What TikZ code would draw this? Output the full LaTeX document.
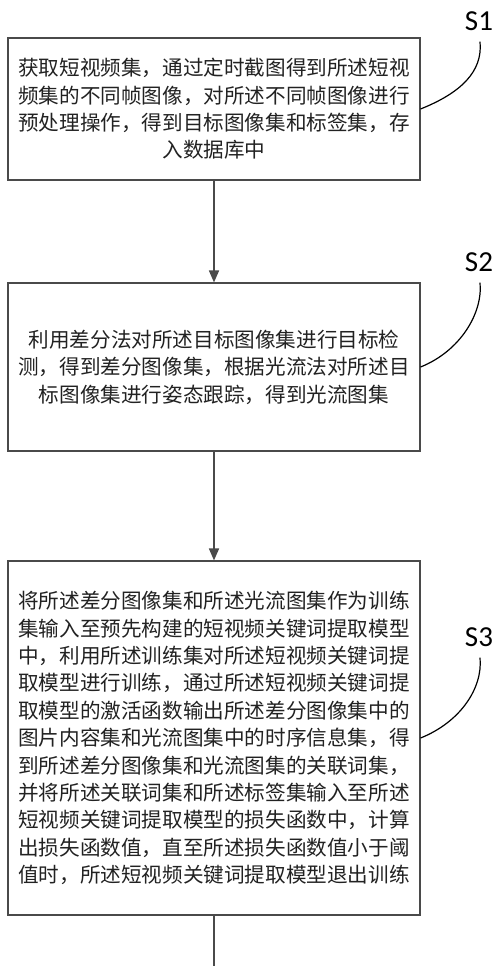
\documentclass[tikz,border=0pt]{standalone}
\usepackage{fontspec}
\newfontfamily\cjk{Noto Sans CJK SC}
\newfontfamily\lab{Carlito}
\usetikzlibrary{arrows.meta}
\definecolor{linegray}{HTML}{4A4A4A}
\definecolor{txt}{HTML}{222222}
\begin{document}
\begin{tikzpicture}[x=1pt,y=-1pt,
  stepbox/.style={draw=linegray,line width=1.1pt,rectangle,minimum width=412pt,inner sep=0pt,align=center,text=txt,font=\cjk\fontsize{20.6}{27.4}\selectfont},
  steplabel/.style={font=\lab\fontsize{29}{29}\selectfont,inner sep=0pt,text=black},
  flow/.style={draw=linegray,line width=1.6pt,-{Triangle[length=12pt,width=10pt]}},
  leader/.style={draw=black,line width=1.2pt}]
\useasboundingbox (0,0) rectangle (500,966);
\fill[white] (0,0) rectangle (500,966);
\node[stepbox,minimum height=142pt] (b1) at (214,109) {获取短视频集，通过定时截图得到所述短视\\频集的不同帧图像，对所述不同帧图像进行\\预处理操作，得到目标图像集和标签集，存\\入数据库中};
\node[stepbox,minimum height=168pt] (b2) at (214,367) {利用差分法对所述目标图像集进行目标检\\测，得到差分图像集，根据光流法对所述目\\标图像集进行姿态跟踪，得到光流图集};
\node[stepbox,minimum height=354pt] (b3) at (214,738) {将所述差分图像集和所述光流图集作为训练\\集输入至预先构建的短视频关键词提取模型\\中，利用所述训练集对所述短视频关键词提\\取模型进行训练，通过所述短视频关键词提\\取模型的激活函数输出所述差分图像集中的\\图片内容集和光流图集中的时序信息集，得\\到所述差分图像集和光流图集的关联词集，\\并将所述关联词集和所述标签集输入至所述\\短视频关键词提取模型的损失函数中，计算\\出损失函数值，直至所述损失函数值小于阈\\值时，所述短视频关键词提取模型退出训练};
\node[steplabel] (s1) at (479,21) {S1};
\node[steplabel] (s2) at (479,262) {S2};
\node[steplabel] (s3) at (479,637) {S3};
\coordinate (bend) at (214,966);
\draw[flow] (b1.south) -- (b2.north);
\draw[flow] (b2.south) -- (b3.north);
\draw[draw=linegray,line width=1.6pt] (b3.south) -- (bend);
\draw[leader] (b1.east) .. controls +(40,-16) and +(3,30) .. ([xshift=1pt,yshift=-11pt]s1.south);
\draw[leader] (b2.east) .. controls +(40,-16) and +(3,30) .. ([xshift=1pt,yshift=-11pt]s2.south);
\draw[leader] (b3.east) .. controls +(40,-16) and +(3,30) .. ([xshift=1pt,yshift=-11pt]s3.south);
\end{tikzpicture}
\end{document}
